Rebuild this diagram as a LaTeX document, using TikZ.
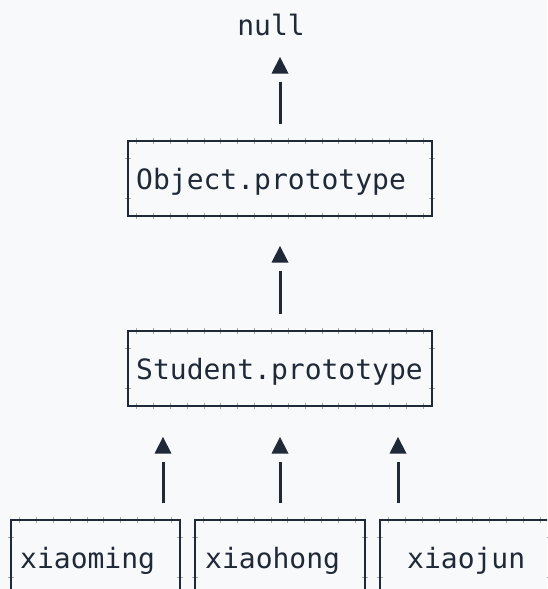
\documentclass[tikz,border=0pt]{standalone}
\usepackage{fontspec}
\setmonofont{DejaVu Sans Mono}
\usetikzlibrary{arrows.meta}
\definecolor{bg}{RGB}{248,249,251}
\definecolor{ink}{RGB}{31,41,55}
\pgfdeclarelayer{back}
\pgfdeclarelayer{ticks}
\pgfsetlayers{back,ticks,main}
\newcommand{\boxticks}[2]{%
  \begin{pgfonlayer}{ticks}
  \foreach \k in {0,...,#2} {%
    \draw[tickmark] ([xshift={8.43+\k*16.86}]#1.north west) ++(0,-2.6) -- ++(0,5.2);
    \draw[tickmark] ([xshift={8.43+\k*16.86}]#1.south west) ++(0,-2.6) -- ++(0,5.2);
  }%
  \foreach \d in {17,57} {%
    \draw[tickmark] ([yshift=-\d]#1.north west) ++(-2.6,0) -- ++(5.2,0);
    \draw[tickmark] ([yshift=-\d]#1.north east) ++(-2.6,0) -- ++(5.2,0);
  }%
  \end{pgfonlayer}
}
\begin{document}
\begin{tikzpicture}[x=1pt,y=-1pt,
  box/.style={draw=ink, line width=2.7pt, rectangle, inner sep=0pt, outer sep=0pt, anchor=north west},
  lbl/.style={font=\ttfamily\fontsize{28}{28}\selectfont, text=ink, inner sep=0pt, anchor=base west},
  conn/.style={draw=ink, line width=3pt, shorten <=17pt, shorten >=25pt},
  tiptri/.style={fill=ink},
  tickmark/.style={draw=ink!40!bg, line width=0.7pt}]
\begin{pgfonlayer}{back}
\fill[bg] (0,0) rectangle (547,589);
\end{pgfonlayer}
\useasboundingbox (0,0) rectangle (547,589);
\clip (0,0) rectangle (547,589);
% boxes
\node[box, minimum width=304pt, minimum height=75pt] (obj) at (128,141) {};
\node[box, minimum width=304pt, minimum height=75pt] (stu) at (128,331) {};
\node[box, minimum width=169pt, minimum height=75pt] (xm) at (11,520) {};
\node[box, minimum width=170pt, minimum height=75pt] (xh) at (195,520) {};
\node[box, minimum width=170pt, minimum height=75pt] (xj) at (380,520) {};
\boxticks{obj}{17}
\boxticks{stu}{17}
\boxticks{xm}{9}
\boxticks{xh}{9}
\boxticks{xj}{9}
% labels
\node[lbl, anchor=base] (null) at (271,35) {null};
\node[lbl] (objt) at ([shift={(8,48)}]obj.north west) {Object.prototype};
\node[lbl] (stut) at ([shift={(8,48)}]stu.north west) {Student.prototype};
\node[lbl] (xmt) at ([shift={(9,48)}]xm.north west) {xiaoming};
\node[lbl] (xht) at ([shift={(10,48)}]xh.north west) {xiaohong};
\node[lbl] (xjt) at ([shift={(27,48)}]xj.north west) {xiaojun};
% arrow tips
\coordinate (tn) at (280,57);
\coordinate (to) at (280,246);
\coordinate (ta) at (163,437);
\coordinate (tb) at (280,437);
\coordinate (tc) at (398,437);
% connectors
\draw[conn] (obj.north) -- (tn);
\draw[conn] (stu.north) -- (to);
\draw[conn] (ta |- xm.north) -- (ta);
\draw[conn] (tb |- xh.north) -- (tb);
\draw[conn] (tc |- xj.north) -- (tc);
\foreach \t in {tn,to,ta,tb,tc}
  \fill[tiptri] (\t) -- ++(-8.5,16.5) -- ++(17,0) -- cycle;
\end{tikzpicture}
\end{document}
